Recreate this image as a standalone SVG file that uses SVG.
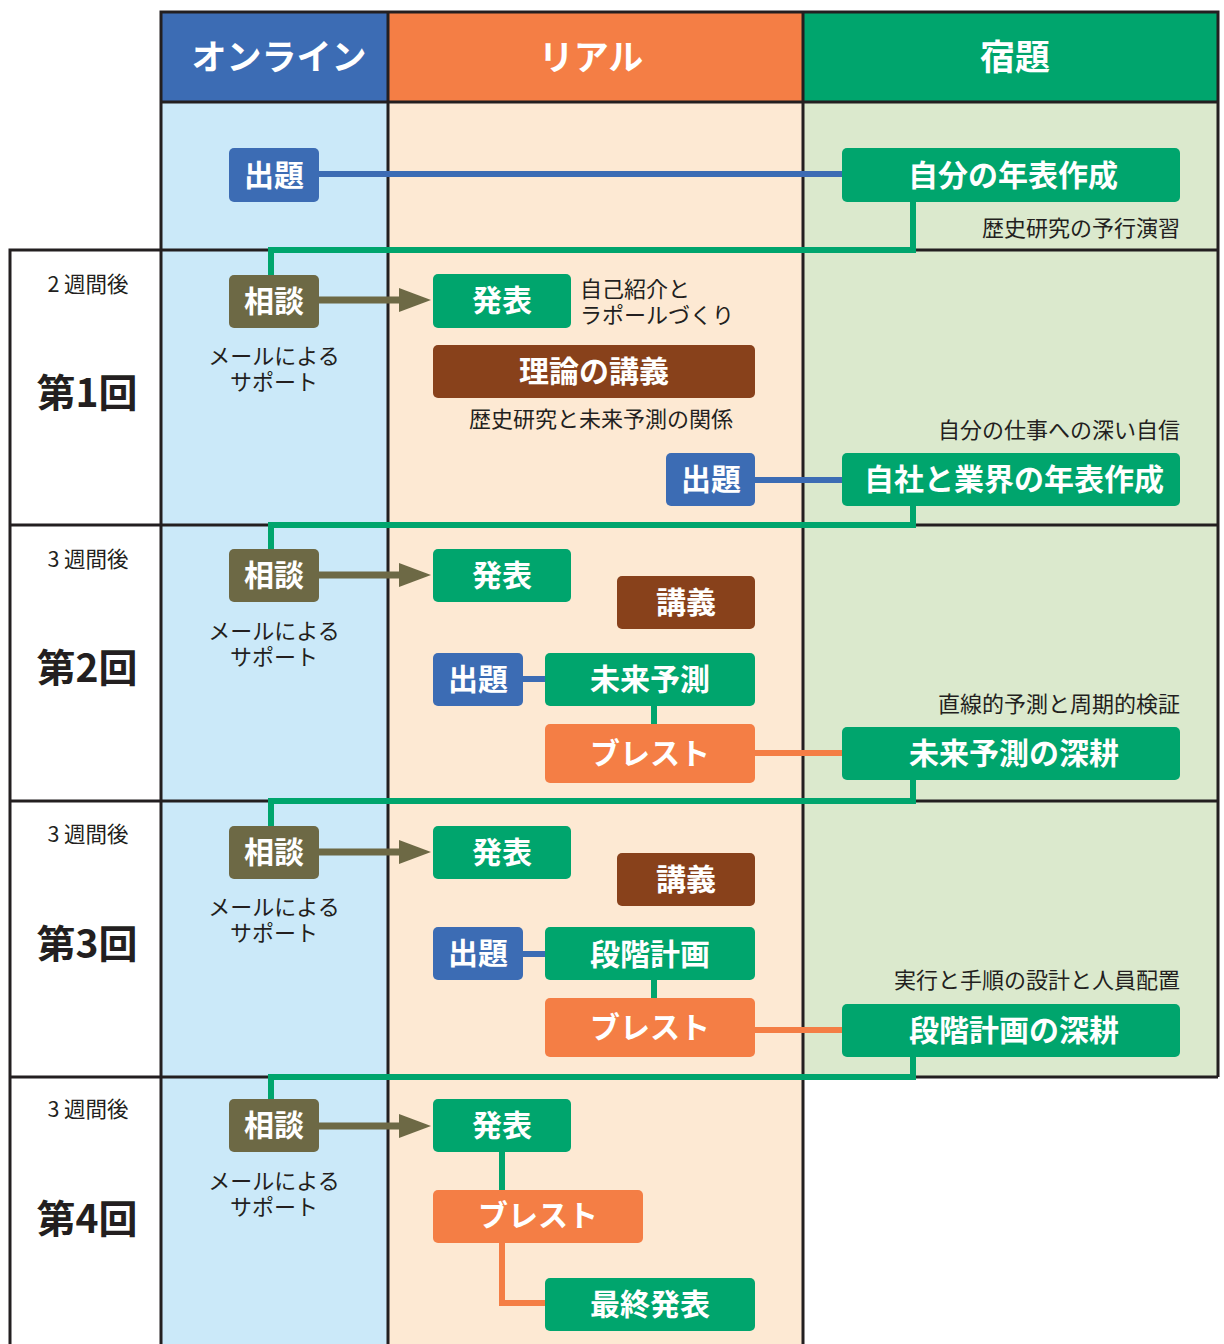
<svg xmlns="http://www.w3.org/2000/svg" width="1224" height="1344" viewBox="0 0 1224 1344">
<defs>
<style>
.grid{stroke:#231f20;stroke-width:3;fill:none}
.conn{fill:none;stroke-width:6}
.g{stroke:#00a56d}.b{stroke:#3c6cb4}.o{stroke:#f47e45}.ol{stroke:#6d6945;stroke-width:7}
.fg{fill:#00a56d}.fb{fill:#3c6cb4}.fo{fill:#f47e45}.fbr{fill:#88411b}.fol{fill:#6d6945}
.lbl{font-family:"Noto Sans CJK JP","Noto Sans",sans-serif;font-weight:bold;fill:#fff;font-size:30px;text-anchor:middle;dominant-baseline:central}
.hdr{font-family:"Noto Sans CJK JP","Noto Sans",sans-serif;font-weight:bold;fill:#fff;font-size:35px;text-anchor:middle;dominant-baseline:central}
.note{font-family:"Noto Sans CJK JP","Noto Sans",sans-serif;fill:#231f20;font-size:22px;dominant-baseline:central}
.wk{font-family:"Noto Sans CJK JP","Noto Sans",sans-serif;fill:#231f20;font-size:21.5px;text-anchor:middle;dominant-baseline:central}
.rnd{font-family:"Noto Sans CJK JP","Noto Sans",sans-serif;font-weight:bold;fill:#231f20;font-size:39px;text-anchor:middle;dominant-baseline:central}
</style>
<marker id="arr" markerUnits="userSpaceOnUse" markerWidth="32" markerHeight="24" viewBox="0 0 32 24" refX="0" refY="12" orient="auto">
<path d="M0,0 L32,12 L0,24 z" fill="#6d6945"/>
</marker>
</defs>
<rect width="1224" height="1344" fill="#fff"/>
<g id="backgrounds">
<rect x="161" y="12" width="227" height="90" fill="#3c6cb4"/>
<rect x="388" y="12" width="415" height="90" fill="#f47e45"/>
<rect x="803" y="12" width="415" height="90" fill="#00a56d"/>
<rect x="161" y="102" width="227" height="1242" fill="#cbe9f9"/>
<rect x="388" y="102" width="415" height="1242" fill="#fde9d3"/>
<rect x="803" y="102" width="415" height="975" fill="#dbe9cd"/>
</g>
<g id="grid" class="grid">
<path d="M161,1344 V12 H1218 V1077"/>
<path d="M388,12 V1344 M803,12 V1344 M161,102 H1218"/>
<path d="M10,1344 V250 H1218 M10,525 H1218 M10,801 H1218 M10,1077 H1218"/>
</g>
<g id="headers">
<text class="hdr" x="279" y="54">オンライン</text>
<text class="hdr" x="591" y="54">リアル</text>
<text class="hdr" x="1015" y="54">宿題</text>
</g>
<g id="rounds">
<text class="wk" x="88" y="282">2 週間後</text>
<text class="rnd" x="87" y="390">第1回</text>
<text class="wk" x="88" y="557">3 週間後</text>
<text class="rnd" x="87" y="665">第2回</text>
<text class="wk" x="88" y="832">3 週間後</text>
<text class="rnd" x="87" y="941">第3回</text>
<text class="wk" x="88" y="1107">3 週間後</text>
<text class="rnd" x="87" y="1216">第4回</text>
</g>
<g id="connectors">
<path class="conn g" d="M913,202 V250 H271 V275"/>
<path class="conn g" d="M913,506 V525 H271 V549"/>
<path class="conn g" d="M913,780 V801 H271 V826"/>
<path class="conn g" d="M913,1057 V1077 H271 V1099"/>
<path class="conn b" d="M319,174 H842"/>
<path class="conn b" d="M755,480 H842"/>
<path class="conn b" d="M523,679 H545"/>
<path class="conn b" d="M523,954 H545"/>
<path class="conn o" d="M755,753 H842"/>
<path class="conn o" d="M755,1030 H842"/>
<path class="conn o" d="M502,1243 V1303 H545"/>
<path class="conn g" d="M654,706 V724"/>
<path class="conn g" d="M654,980 V998"/>
<path class="conn g" d="M502,1152 V1190"/>
<path class="conn ol" d="M319,300 H399" marker-end="url(#arr)"/>
<path class="conn ol" d="M319,575 H399" marker-end="url(#arr)"/>
<path class="conn ol" d="M319,852 H399" marker-end="url(#arr)"/>
<path class="conn ol" d="M319,1126 H399" marker-end="url(#arr)"/>
</g>
<g id="n0-task"><rect class="fb" x="229" y="148" width="90" height="54" rx="5"/><text class="lbl" x="274" y="173">出題</text></g>
<g id="n0-hw"><rect class="fg" x="842" y="148" width="338" height="54" rx="5"/><text class="lbl" x="1013" y="173">自分の年表作成</text><text class="note" x="1180" y="226" text-anchor="end">歴史研究の予行演習</text></g>

<g id="n1-consult"><rect class="fol" x="229" y="275" width="90" height="53" rx="5"/><text class="lbl" x="274" y="299">相談</text><text class="note" text-anchor="middle"><tspan x="274" y="354">メールによる</tspan><tspan x="274" y="380">サポート</tspan></text></g>
<g id="n1-present"><rect class="fg" x="433" y="274" width="138" height="54" rx="5"/><text class="lbl" x="502" y="298">発表</text><text class="note"><tspan x="580" y="287">自己紹介と</tspan><tspan x="580" y="313">ラポールづくり</tspan></text></g>
<g id="n1-lecture"><rect class="fbr" x="433" y="345" width="322" height="53" rx="5"/><text class="lbl" x="594" y="369">理論の講義</text><text class="note" x="601" y="417" text-anchor="middle">歴史研究と未来予測の関係</text></g>
<g id="n1-task"><rect class="fb" x="666" y="453" width="89" height="53" rx="5"/><text class="lbl" x="711" y="477">出題</text></g>
<g id="n1-hw"><rect class="fg" x="842" y="453" width="338" height="53" rx="5"/><text class="lbl" x="1014" y="477">自社と業界の年表作成</text><text class="note" x="1180" y="428" text-anchor="end">自分の仕事への深い自信</text></g>

<g id="n2-consult"><rect class="fol" x="229" y="549" width="90" height="53" rx="5"/><text class="lbl" x="274" y="573">相談</text><text class="note" text-anchor="middle"><tspan x="274" y="629">メールによる</tspan><tspan x="274" y="655">サポート</tspan></text></g>
<g id="n2-present"><rect class="fg" x="433" y="549" width="138" height="53" rx="5"/><text class="lbl" x="502" y="573">発表</text></g>
<g id="n2-lecture"><rect class="fbr" x="617" y="576" width="138" height="53" rx="5"/><text class="lbl" x="686" y="600">講義</text></g>
<g id="n2-task"><rect class="fb" x="433" y="653" width="90" height="53" rx="5"/><text class="lbl" x="478" y="677">出題</text></g>
<g id="n2-forecast"><rect class="fg" x="545" y="653" width="210" height="53" rx="5"/><text class="lbl" x="650" y="677">未来予測</text></g>
<g id="n2-brainstorm"><rect class="fo" x="545" y="724" width="210" height="59" rx="5"/><text class="lbl" x="650" y="751">ブレスト</text></g>
<g id="n2-hw"><rect class="fg" x="842" y="727" width="338" height="53" rx="5"/><text class="lbl" x="1014" y="751">未来予測の深耕</text><text class="note" x="1180" y="702" text-anchor="end">直線的予測と周期的検証</text></g>

<g id="n3-consult"><rect class="fol" x="229" y="826" width="90" height="53" rx="5"/><text class="lbl" x="274" y="850">相談</text><text class="note" text-anchor="middle"><tspan x="274" y="905">メールによる</tspan><tspan x="274" y="931">サポート</tspan></text></g>
<g id="n3-present"><rect class="fg" x="433" y="826" width="138" height="53" rx="5"/><text class="lbl" x="502" y="850">発表</text></g>
<g id="n3-lecture"><rect class="fbr" x="617" y="853" width="138" height="53" rx="5"/><text class="lbl" x="686" y="877">講義</text></g>
<g id="n3-task"><rect class="fb" x="433" y="927" width="90" height="53" rx="5"/><text class="lbl" x="478" y="951">出題</text></g>
<g id="n3-plan"><rect class="fg" x="545" y="927" width="210" height="53" rx="5"/><text class="lbl" x="650" y="952">段階計画</text></g>
<g id="n3-brainstorm"><rect class="fo" x="545" y="998" width="210" height="59" rx="5"/><text class="lbl" x="650" y="1025">ブレスト</text></g>
<g id="n3-hw"><rect class="fg" x="842" y="1004" width="338" height="53" rx="5"/><text class="lbl" x="1014" y="1028">段階計画の深耕</text><text class="note" x="1180" y="978" text-anchor="end">実行と手順の設計と人員配置</text></g>

<g id="n4-consult"><rect class="fol" x="229" y="1099" width="90" height="53" rx="5"/><text class="lbl" x="274" y="1123">相談</text><text class="note" text-anchor="middle"><tspan x="274" y="1179">メールによる</tspan><tspan x="274" y="1205">サポート</tspan></text></g>
<g id="n4-present"><rect class="fg" x="433" y="1099" width="138" height="53" rx="5"/><text class="lbl" x="502" y="1123">発表</text></g>
<g id="n4-brainstorm"><rect class="fo" x="433" y="1190" width="210" height="53" rx="5"/><text class="lbl" x="538" y="1213">ブレスト</text></g>
<g id="n4-final"><rect class="fg" x="545" y="1278" width="210" height="53" rx="5"/><text class="lbl" x="650" y="1302">最終発表</text></g>
</svg>
